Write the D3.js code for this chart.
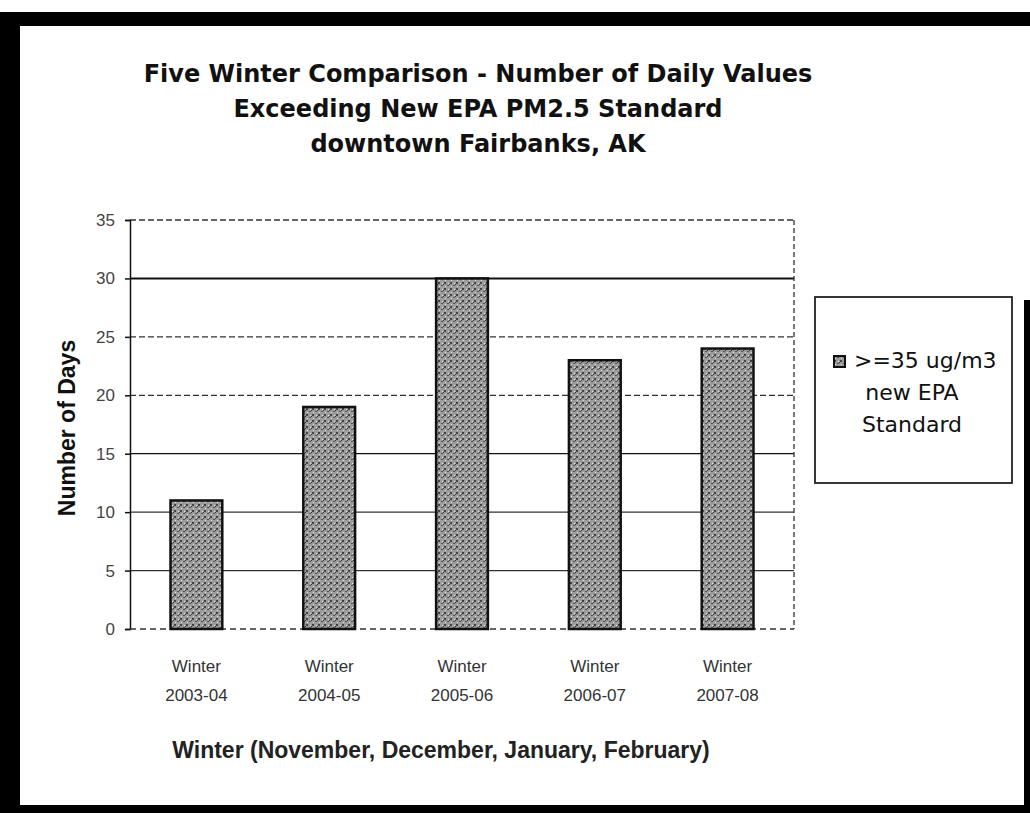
<!DOCTYPE html>
<html><head><meta charset="utf-8">
<script src="https://cdn.jsdelivr.net/npm/d3@7"></script>
<style>body{margin:0;background:#fff;}svg{display:block;}</style>
</head><body>
<svg id="c" width="1030" height="813"></svg>
<script>
const categories = ["Winter 2003-04","Winter 2004-05","Winter 2005-06","Winter 2006-07","Winter 2007-08"];
const values = [11, 19, 30, 23, 24];
const yTicks = [0, 5, 10, 15, 20, 25, 30, 35];
const titleLines = ["Five Winter Comparison - Number of Daily Values","Exceeding New EPA PM2.5 Standard","downtown Fairbanks, AK"];
const legendLines = [">=35 ug/m3","new EPA","Standard"];
const yTitle = "Number of Days";
const xTitle = "Winter (November, December, January, February)";

const svg = d3.select("#c");
const M = {l:130, r:794, t:220, b:629};
const x = d3.scaleBand().domain(categories).range([M.l, M.r]).paddingInner(0.61).paddingOuter(0.305);
const y = d3.scaleLinear().domain([0,35]).range([M.b, M.t]);

// texture pattern
const defs = svg.append("defs");
const pat = defs.append("pattern").attr("id","tex").attr("width",6).attr("height",6).attr("patternUnits","userSpaceOnUse");
pat.append("rect").attr("width",6).attr("height",6).attr("fill","#9c9c9c");
pat.append("rect").attr("x",0).attr("y",0).attr("width",2).attr("height",2).attr("fill","#444");
pat.append("rect").attr("x",3).attr("y",3).attr("width",2).attr("height",1).attr("fill","#555");
pat.append("rect").attr("x",5).attr("y",2).attr("width",1).attr("height",1).attr("fill","#333");
pat.append("rect").attr("x",4).attr("y",1).attr("width",1).attr("height",1).attr("fill","#e6e6e6");
pat.append("rect").attr("x",1).attr("y",4).attr("width",1).attr("height",1).attr("fill","#ddd");

// scan frame
svg.append("rect").attr("x",0).attr("y",12).attr("width",1030).attr("height",14).attr("fill","#000");
svg.append("rect").attr("x",0).attr("y",12).attr("width",20).attr("height",801).attr("fill","#000");
svg.append("rect").attr("x",0).attr("y",805).attr("width",1030).attr("height",8).attr("fill","#000");
svg.append("rect").attr("x",1024).attr("y",300).attr("width",6).attr("height",513).attr("fill","#000");

// title
const tt = svg.append("text").attr("text-anchor","middle").attr("font-family","DejaVu Sans").attr("font-weight","bold").attr("font-size",24).attr("fill","#111");
titleLines.forEach((s,i)=>tt.append("tspan").attr("x",478).attr("y",82+i*35).text(s));

// gridlines
svg.append("g").selectAll("line").data(yTicks.filter(d=>d>0)).join("line")
  .attr("x1",M.l).attr("x2",M.r).attr("y1",d=>y(d)).attr("y2",d=>y(d))
  .attr("stroke",d=>(d===30||d===15)?"#111":"#333").attr("stroke-width",d=>(d===30)?2:1.3)
  .attr("stroke-dasharray",d=>(d===30||d===15||d===10||d===5)?null:"6,3");
// right border dashed
svg.append("line").attr("x1",M.r).attr("x2",M.r).attr("y1",M.t).attr("y2",M.b).attr("stroke","#333").attr("stroke-width",1.3).attr("stroke-dasharray","5,3");

// y axis
const ya = svg.append("g").attr("transform",`translate(${M.l},0)`).call(d3.axisLeft(y).tickValues(yTicks).tickSize(5).tickPadding(10));
ya.select(".domain").attr("stroke","#111").attr("stroke-width",1.5);
ya.selectAll(".tick line").attr("stroke","#111").attr("stroke-width",1.5);
ya.selectAll(".tick text").attr("font-family","Liberation Sans").attr("font-size",17).attr("fill","#444");

// baseline dashed
svg.append("line").attr("x1",M.l).attr("x2",M.r).attr("y1",M.b).attr("y2",M.b).attr("stroke","#333").attr("stroke-width",1.3).attr("stroke-dasharray","6,4");

// bars
svg.append("g").selectAll("rect").data(values).join("rect")
  .attr("x",(d,i)=>x(categories[i])).attr("width",x.bandwidth())
  .attr("y",d=>y(d)).attr("height",d=>y(0)-y(d))
  .attr("fill","url(#tex)").attr("stroke","#111").attr("stroke-width",2.5);

// x labels
const xl = svg.append("g");
categories.forEach(c=>{
  const parts = c.split(" ");
  const t = xl.append("text").attr("text-anchor","middle").attr("font-family","Liberation Sans").attr("font-size",17).attr("fill","#333");
  parts.forEach((p,j)=>t.append("tspan").attr("x",x(c)+x.bandwidth()/2).attr("y",672+j*29).text(p));
});

// axis titles
svg.append("text").attr("transform","translate(75,428) rotate(-90)").attr("text-anchor","middle")
  .attr("font-family","Liberation Sans").attr("font-weight","bold").attr("font-size",23).attr("fill","#111").text(yTitle);
svg.append("text").attr("x",441).attr("y",758).attr("text-anchor","middle")
  .attr("font-family","Liberation Sans").attr("font-weight","bold").attr("font-size",23).attr("fill","#222").text(xTitle);

// legend
svg.append("rect").attr("x",815).attr("y",297).attr("width",197).attr("height",186).attr("fill","#fff").attr("stroke","#222").attr("stroke-width",1.8);
svg.append("rect").attr("x",834).attr("y",356).attr("width",11).attr("height",11).attr("fill","url(#tex)").attr("stroke","#111").attr("stroke-width",2);
const lt = svg.append("g").attr("font-family","DejaVu Sans").attr("font-size",22).attr("fill","#111");
lt.append("text").attr("x",854).attr("y",368).text(legendLines[0]);
lt.append("text").attr("x",912).attr("y",400).attr("text-anchor","middle").text(legendLines[1]);
lt.append("text").attr("x",912).attr("y",432).attr("text-anchor","middle").text(legendLines[2]);
</script>
</body></html>
